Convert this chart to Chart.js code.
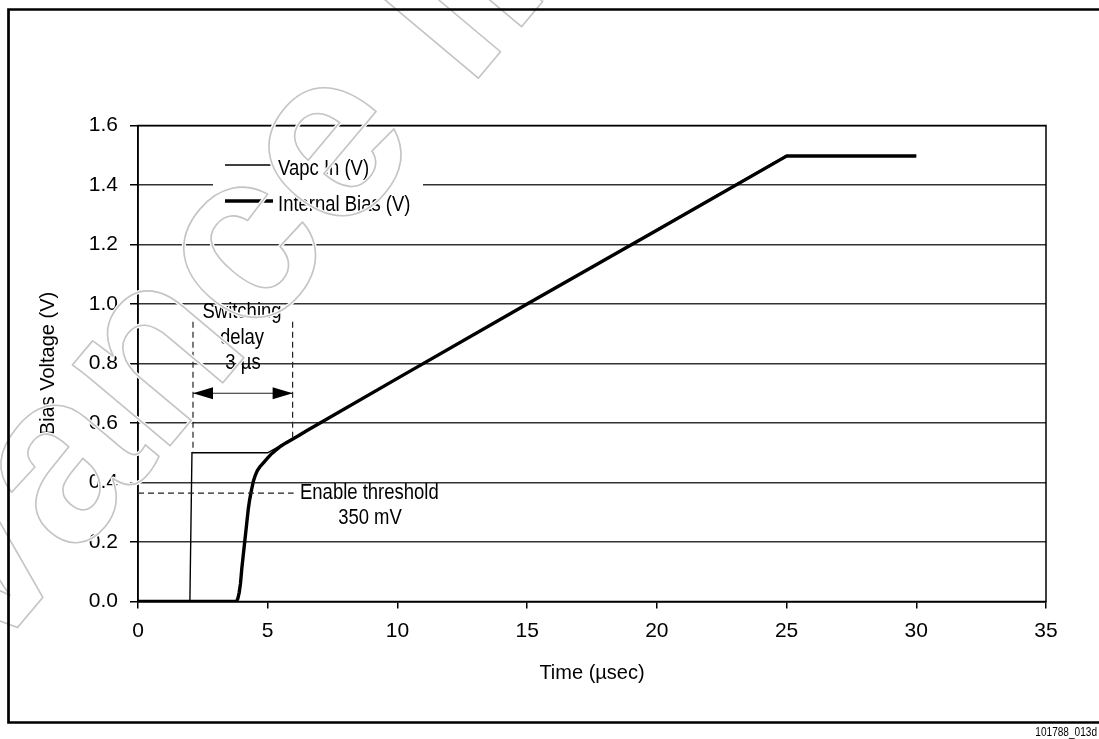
<!DOCTYPE html>
<html>
<head>
<meta charset="utf-8">
<title>Bias Voltage vs Time</title>
<script src="https://cdn.jsdelivr.net/npm/chart.js@4.4.1/dist/chart.umd.min.js"></script>
<style>
  html, body { margin: 0; padding: 0; background: #fff; }
  #wrap { position: relative; width: 1099px; height: 739px; }
</style>
</head>
<body>
<div id="wrap"><canvas id="biasChart"></canvas></div>
<script>
// Vapc In (V) - thin trace
const vapcTime = [0, 2.0, 2.08, 5.0, 25.0, 30.0];
const vapcVolts = [0, 0, 0.5, 0.5, 1.5, 1.5];

// Internal Bias (V) - thick trace
const biasTime = [0, 3.8, 3.85, 3.9, 3.95, 4.0, 4.05, 4.1, 4.15, 4.2, 4.25, 4.3, 4.375, 4.45, 4.525, 4.6, 4.7, 4.85, 5.0, 5.15, 5.3, 5.5, 5.7, 5.9, 6.2, 6.5, 10, 15, 20, 25.0, 30.0];
const biasVolts = [0, 0, 0.01, 0.03, 0.06, 0.11, 0.15, 0.19, 0.23, 0.27, 0.31, 0.34, 0.375, 0.405, 0.425, 0.44, 0.453, 0.468, 0.483, 0.497, 0.508, 0.522, 0.533, 0.543, 0.558, 0.574, 0.75, 1.0, 1.248, 1.497, 1.497];

const seriesLabels = ['Vapc In (V)', 'Internal Bias (V)'];
const xTicks = [0, 5, 10, 15, 20, 25, 30, 35];
const yTicks = [0, 0.2, 0.4, 0.6, 0.8, 1.0, 1.2, 1.4, 1.6];

// annotation values (data units)
const delayStart = 2.12, delayEnd = 5.96;
const thresholdVolts = 0.364;

const FAMILY = "'Liberation Sans', Arial, sans-serif";
Chart.defaults.font.family = FAMILY;
Chart.defaults.font.size = 21;
Chart.defaults.color = '#000';

const toPoints = (xs, ys) => xs.map((x, i) => ({ x: x, y: ys[i] }));

// narrow text, the original uses a condensed face
function narrowText(ctx, text, x, y, align) {
  ctx.save();
  ctx.translate(x, y);
  ctx.scale(0.84, 1);
  ctx.textAlign = align;
  ctx.fillText(text, 0, 0);
  ctx.restore();
}

// draws the arrows, dashed guide lines, notes, legend, frame and watermark
const extrasPlugin = {
  id: 'extras',
  afterDatasetsDraw(chart) {
    const ctx = chart.ctx;
    const xs = chart.scales.x, ys = chart.scales.y;
    const area = chart.chartArea;
    const px = v => xs.getPixelForValue(v);
    const py = v => ys.getPixelForValue(v);

    ctx.save();
    // plot box
    ctx.strokeStyle = '#000';
    ctx.lineWidth = 1.5;
    ctx.strokeRect(area.left, area.top, area.right - area.left, area.bottom - area.top);

    // dashed guides
    ctx.setLineDash([6, 4]);
    ctx.lineWidth = 1.2;
    ctx.strokeStyle = '#222';
    ctx.beginPath();
    ctx.moveTo(px(delayStart), py(0.94));
    ctx.lineTo(px(delayStart), py(0.5));
    ctx.moveTo(px(delayEnd), py(0.94));
    ctx.lineTo(px(delayEnd), py(0.55));
    ctx.moveTo(px(0), py(thresholdVolts));
    ctx.lineTo(px(6.0), py(thresholdVolts));
    ctx.stroke();
    ctx.setLineDash([]);

    // double arrow
    const ay = py(0.7);
    const x1 = px(delayStart), x2 = px(delayEnd);
    ctx.beginPath();
    ctx.moveTo(x1, ay);
    ctx.lineTo(x2, ay);
    ctx.stroke();
    ctx.fillStyle = '#000';
    ctx.beginPath();
    ctx.moveTo(x1, ay);
    ctx.lineTo(x1 + 20, ay - 6);
    ctx.lineTo(x1 + 20, ay + 6);
    ctx.closePath();
    ctx.fill();
    ctx.beginPath();
    ctx.moveTo(x2, ay);
    ctx.lineTo(x2 - 20, ay - 6);
    ctx.lineTo(x2 - 20, ay + 6);
    ctx.closePath();
    ctx.fill();

    // notes
    ctx.font = '22px ' + FAMILY;
    ctx.textBaseline = 'middle';
    narrowText(ctx, 'Switching', 242, 312, 'center');
    narrowText(ctx, 'delay', 242, 338, 'center');
    narrowText(ctx, '3 \u00b5s', 243, 363, 'center');
    narrowText(ctx, 'Enable threshold', 300, py(thresholdVolts), 'left');
    narrowText(ctx, '350 mV', 370, 518, 'center');

    // legend inside the plot
    ctx.fillStyle = '#fff';
    ctx.fillRect(213, 150, 210, 64);
    const ds = chart.data.datasets;
    const rows = [165, 201];
    ds.forEach((d, i) => {
      ctx.strokeStyle = '#000';
      ctx.lineWidth = d.borderWidth;
      ctx.beginPath();
      ctx.moveTo(225, rows[i]);
      ctx.lineTo(273, rows[i]);
      ctx.stroke();
      ctx.fillStyle = '#000';
      narrowText(ctx, d.label, 278, rows[i] + 4, 'left');
    });

    // outlined watermark
    ctx.save();
    ctx.translate(-218, 908);
    ctx.rotate(-50 * Math.PI / 180);
    ctx.font = "bold 240px 'Liberation Sans', Arial, sans-serif";
    ctx.textBaseline = 'alphabetic';
    ctx.textAlign = 'left';
    ctx.lineJoin = 'round';
    ctx.strokeStyle = '#fff';
    ctx.lineWidth = 4;
    ctx.strokeText('Advance Information', 0, 0);
    ctx.strokeStyle = '#c4c4c4';
    ctx.lineWidth = 1.6;
    ctx.strokeText('Advance Information', 0, 0);
    ctx.restore();

    // outer frame
    ctx.strokeStyle = '#000';
    ctx.lineWidth = 2.7;
    ctx.beginPath();
    ctx.moveTo(1100, 9.5);
    ctx.lineTo(8.5, 9.5);
    ctx.lineTo(8.5, 722.5);
    ctx.lineTo(1100, 722.5);
    ctx.stroke();

    // figure id
    ctx.font = '12px ' + FAMILY;
    ctx.fillStyle = '#000';
    narrowText(ctx, '101788_013d', 1097, 733, 'right');
    ctx.restore();
  }
};

const chart = new Chart(document.getElementById('biasChart').getContext('2d'), {
  type: 'line',
  data: {
    datasets: [{
      label: seriesLabels[0],
      data: toPoints(vapcTime, vapcVolts),
      borderColor: '#000',
      borderWidth: 1.4,
      pointRadius: 0,
      tension: 0,
      fill: false
    }, {
      label: seriesLabels[1],
      data: toPoints(biasTime, biasVolts),
      borderColor: '#000',
      borderWidth: 3.4,
      pointRadius: 0,
      tension: 0,
      fill: false
    }]
  },
  options: {
    responsive: true,
    maintainAspectRatio: false,
    animation: false,
    layout: { padding: { left: 0, top: 125.5, right: 53, bottom: 53.5 } },
    plugins: { legend: { display: false }, tooltip: { enabled: false } },
    scales: {
      x: {
        type: 'linear',
        min: 0,
        max: 35,
        afterBuildTicks: s => { s.ticks = xTicks.map(v => ({ value: v })); },
        afterFit: s => { s.height = 84; },
        ticks: { padding: 10, maxRotation: 0 },
        grid: { drawOnChartArea: false, tickLength: 7, tickColor: '#000', lineWidth: 1.5 },
        border: { color: '#000', width: 1.5 },
        title: { display: true, text: 'Time (\u00b5sec)', font: { size: 20 }, padding: { top: 0, bottom: 0 } }
      },
      y: {
        type: 'linear',
        min: 0,
        max: 1.6,
        afterBuildTicks: s => { s.ticks = yTicks.map(v => ({ value: v })); },
        afterFit: s => { s.width = 138; },
        ticks: { padding: 12, callback: v => Number(v).toFixed(1) },
        grid: { color: '#333', lineWidth: 1.5, tickLength: 8, tickColor: '#000' },
        border: { color: '#000', width: 1.5 },
        title: { display: true, text: 'Bias Voltage (V)', font: { size: 20 }, padding: { top: 36, bottom: 0 } }
      }
    }
  },
  plugins: [extrasPlugin]
});
</script>
</body>
</html>
